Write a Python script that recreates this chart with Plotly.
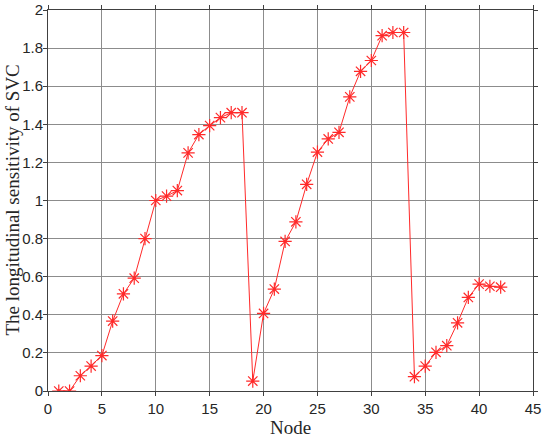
import plotly.graph_objects as go

nodes = list(range(1, 43))
sensitivity = [
    0.0, 0.0, 0.08, 0.131, 0.186, 0.367, 0.51, 0.592, 0.80, 1.0,
    1.023, 1.052, 1.25, 1.346, 1.393, 1.435, 1.461, 1.461, 0.052, 0.407,
    0.535, 0.785, 0.888, 1.085, 1.254, 1.323, 1.358, 1.544, 1.678, 1.735,
    1.865, 1.882, 1.882, 0.075, 0.131, 0.203, 0.238, 0.358, 0.491, 0.561,
    0.55, 0.545,
]
x_ticks = [0, 5, 10, 15, 20, 25, 30, 35, 40, 45]
y_ticks = [0, 0.2, 0.4, 0.6, 0.8, 1, 1.2, 1.4, 1.6, 1.8, 2]
y_tick_text = ["0", "0.2", "0.4", "0.6", "0.8", "1", "1.2", "1.4", "1.6", "1.8", "2"]

fig = go.Figure()
fig.add_trace(go.Scatter(
    x=nodes, y=sensitivity, mode="lines+markers",
    line=dict(color="#ff2a2a", width=1),
    marker=dict(symbol="asterisk-open", size=11, color="#ff2a2a",
                line=dict(color="#ff2a2a", width=1.2)),
    showlegend=False,
))

axis_common = dict(
    showgrid=True, gridcolor="#8c8c8c", gridwidth=1,
    showline=True, linecolor="#404040", linewidth=1, mirror="all",
    ticks="outside", ticklen=4, tickcolor="#404040",
    zeroline=False, automargin=False,
    tickfont=dict(family="Liberation Sans, Arial", size=15, color="#262626"),
)
serif = dict(family="Liberation Serif, Times New Roman", size=19, color="#262626")
fig.update_xaxes(
    range=[0, 45], tickvals=x_ticks,
    title=dict(text="Node", font=serif, standoff=0),
    **axis_common,
)
fig.update_yaxes(
    range=[0, 2], tickvals=y_ticks, ticktext=y_tick_text,
    ticklabelstandoff=-3,
    **axis_common,
)
# y title as an annotation so it can be placed exactly
fig.add_annotation(
    text="The longitudinal sensitivity of SVC", font=serif,
    xref="paper", yref="paper", x=0, y=0.5, xanchor="center", yanchor="middle",
    xshift=-36, textangle=-90, showarrow=False,
)
fig.update_layout(
    width=550, height=441,
    margin=dict(l=48, r=17, t=10, b=50),
    plot_bgcolor="white", paper_bgcolor="white",
)
# drop the default 8px page margin so the figure sits at the window corner
fig.write_html("out.html", config={"displayModeBar": False},
               post_script="document.body.style.margin='0px';")
